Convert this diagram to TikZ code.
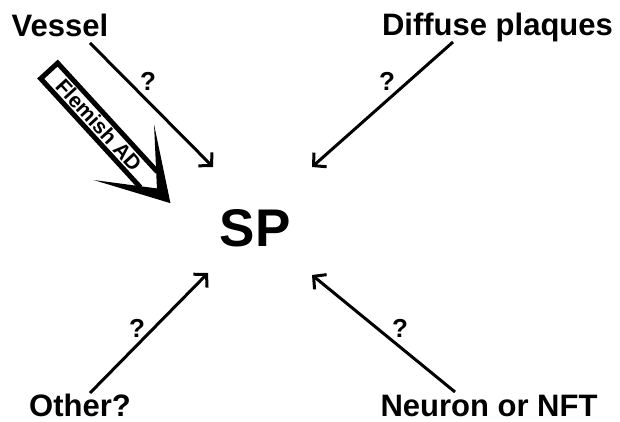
\documentclass[tikz,border=0pt]{standalone}
\usepackage{fontspec}
\setmainfont{Liberation Sans}
\usetikzlibrary{arrows.meta}
\begin{document}
\begin{tikzpicture}[x=1pt,y=1pt]
\tikzset{
 lbl/.style={font=\fontsize{31}{36}\selectfont\bfseries, anchor=base, inner sep=0pt, text depth=0pt},
 qm/.style={font=\fontsize{26}{30}\selectfont\bfseries, inner sep=0pt},
 conn/.style={line width=3pt, -{Straight Barb[length=9pt,width=19pt]}},
}
\useasboundingbox (0,0) rectangle (620,422);
% labels
\node[lbl] (vessel) at (60,385) {Vessel};
\node[lbl] (diffuse) at (497.5,386) {Diffuse plaques};
\node[lbl] (other) at (80,5) {Other?};
\node[lbl] (neuron) at (489,5) {Neuron or NFT};
\node[lbl, font=\fontsize{53}{60}\selectfont\bfseries] (sp) at (255,175) {SP};
% connector end points
\coordinate (vs) at (90,379);  \coordinate (ve) at (213,255);
\coordinate (ds) at (453,380); \coordinate (de) at (312,255);
\coordinate (os) at (90,29);   \coordinate (oe) at (208,149);
\coordinate (ns) at (455,30);  \coordinate (ne) at (312,147);
\draw[conn] (vs) -- (ve);
\draw[conn] (ds) -- (de);
\draw[conn] (os) -- (oe);
\draw[conn] (ns) -- (ne);
% question marks
\node[qm] (q1) at (148,341) {?};
\node[qm] (q2) at (387,341) {?};
\node[qm] (q3) at (137,94) {?};
\node[qm] (q4) at (400,94) {?};
% Flemish AD fat arrow
\begin{scope}[shift={(47.5,353)}, rotate=-47.5]
 \fill (182,0) -- (113,41) -- (162,0) -- (113,-41) -- cycle;
 \draw[line width=5pt] (150,11.5) -- (2.5,11.5) -- (2.5,-11.5) -- (150,-11.5);
 \node[rotate=-47.5, font=\fontsize{21}{24}\selectfont\bfseries, inner sep=0pt] (flem) at (76,0) {Flemish AD};
\end{scope}
\end{tikzpicture}
\end{document}
